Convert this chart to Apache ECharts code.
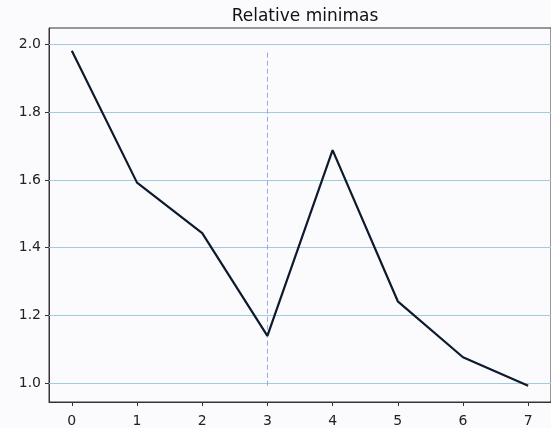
<!DOCTYPE html>
<html>
<head>
<meta charset="utf-8">
<script src="https://cdn.jsdelivr.net/npm/echarts@6/dist/echarts.min.js"></script>
<style>
    html, body { margin: 0; padding: 0; background: #fbfbfd; }
    #chart { width: 551px; height: 428px; }
</style>
</head>
<body>
<div id="chart"></div>
<script>
var xValues = [0, 1, 2, 3, 4, 5, 6, 7];
var yValues = [1.981, 1.592, 1.443, 1.140, 1.688, 1.242, 1.077, 0.993];
var minimaX = [3];
var xTicks = [0, 1, 2, 3, 4, 5, 6, 7];
var yTicks = [1.0, 1.2, 1.4, 1.6, 1.8, 2.0];

var axisColor = '#3a3232';
var gridColor = '#a3cbe0';

var lineData = [];
for (var i = 0; i < xValues.length; i++) {
    lineData.push([xValues[i], yValues[i]]);
}

var yLo = Math.min.apply(null, yValues);
var yHi = Math.max.apply(null, yValues);

// horizontal grid lines
var gridLines = [];
for (var j = 0; j < yTicks.length; j++) {
    gridLines.push({ yAxis: yTicks[j] });
}
// dashed marker at each minimum
var minimaLines = [];
for (var k = 0; k < minimaX.length; k++) {
    minimaLines.push([
        { coord: [minimaX[k], yLo] },
        { coord: [minimaX[k], yHi] }
    ]);
}

var myChart = echarts.init(document.getElementById('chart'));
var option = {
    backgroundColor: '#fbfbfd',
    animation: false,
    title: {
        text: 'Relative minimas',
        left: 300,
        textAlign: 'center',
        top: 3,
        textStyle: { fontFamily: 'DejaVu Sans', fontSize: 17, fontWeight: 'normal', color: '#111' }
    },
    grid: {
        left: 49,
        right: -1,
        top: 28,
        bottom: 26,
        show: true,
        borderColor: axisColor,
        borderWidth: 1,
        backgroundColor: 'transparent'
    },
    xAxis: {
        type: 'value',
        min: -0.35,
        max: 7.35,
        splitLine: { show: false },
        axisLine: { show: true, onZero: false, lineStyle: { color: axisColor, width: 1 } },
        axisTick: { show: true, length: 4, customValues: xTicks, lineStyle: { color: axisColor } },
        axisLabel: {
            customValues: xTicks,
            margin: 12,
            fontFamily: 'DejaVu Sans',
            fontSize: 14,
            color: '#222'
        }
    },
    yAxis: {
        type: 'value',
        min: 0.945,
        max: 2.048,
        splitLine: { show: false },
        axisLine: { show: true, onZero: false, lineStyle: { color: axisColor, width: 1 } },
        axisTick: { show: true, length: 4, customValues: yTicks, lineStyle: { color: axisColor } },
        axisLabel: {
            customValues: yTicks,
            margin: 8,
            fontFamily: 'DejaVu Sans',
            fontSize: 14,
            color: '#222',
            formatter: function (v) { return v.toFixed(1); }
        }
    },
    series: [{
        type: 'line',
        data: lineData,
        showSymbol: false,
        lineStyle: { color: '#0d1a2c', width: 2.2 },
        z: 5,
        markLine: {
            silent: true,
            symbol: ['none', 'none'],
            label: { show: false },
            lineStyle: { color: gridColor, width: 1, type: 'solid' },
            emphasis: { disabled: true },
            data: gridLines
        }
    }, {
        type: 'line',
        data: [],
        z: 3,
        markLine: {
            silent: true,
            symbol: ['none', 'none'],
            label: { show: false },
            lineStyle: { color: '#94a6ee', width: 1, type: [5, 3] },
            emphasis: { disabled: true },
            data: minimaLines
        }
    }]
};
myChart.setOption(option);
</script>
</body>
</html>
